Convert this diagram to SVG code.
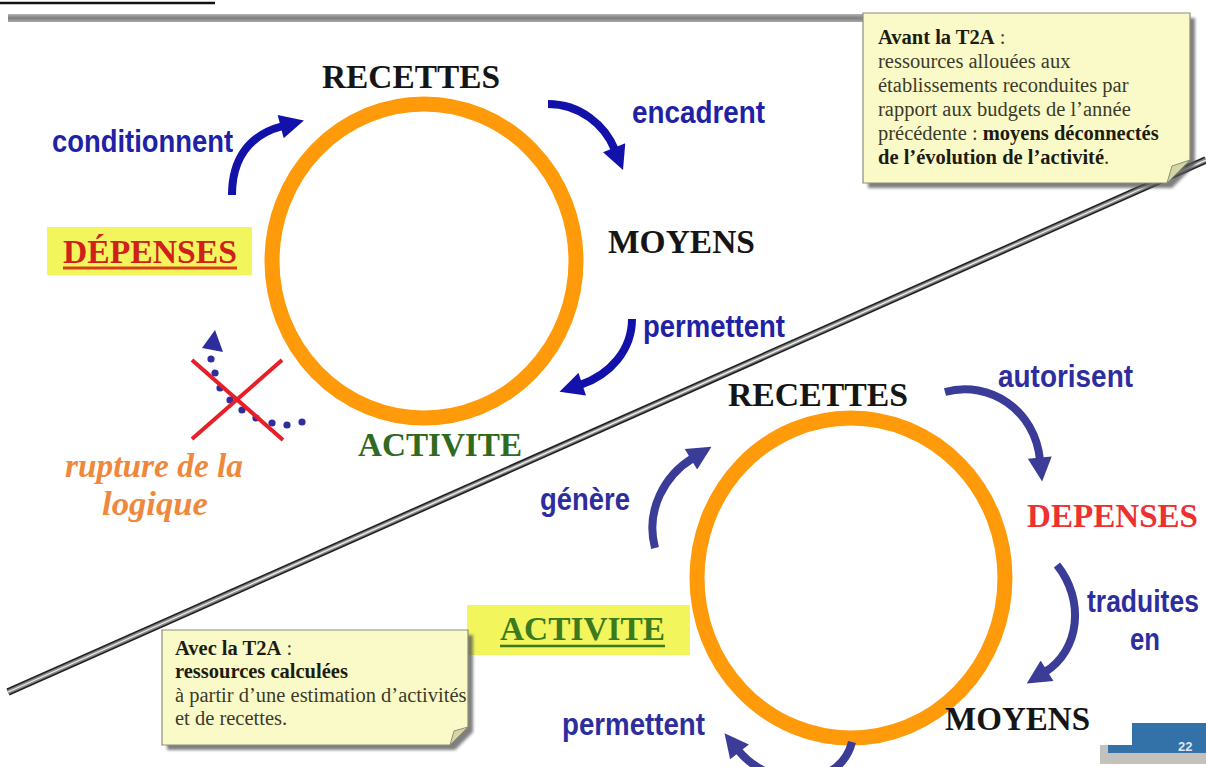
<svg xmlns="http://www.w3.org/2000/svg" width="1206" height="767" viewBox="0 0 1206 767">
<style>
.lbl{font-family:"Liberation Serif","Times New Roman",serif;font-weight:bold;font-size:33px;fill:#151515}
.bt{font-family:"Liberation Sans",Arial,sans-serif;font-weight:bold;font-size:31px;fill:#2121a6}
.bb{font-family:"Liberation Sans",Arial,sans-serif;font-weight:bold;font-size:31px;fill:#2d2d9e}
.note{font-family:"Liberation Serif","Times New Roman",serif;font-size:20.5px;fill:#3b3b2c}
.nb{font-weight:bold;fill:#1c1c10}
.ring{fill:none;stroke:#ff9a0a;stroke-width:15}
.at{fill:none;stroke:#1212aa;stroke-width:8}
.ab{fill:none;stroke:#3b3b98;stroke-width:8}
.paper{fill:#fafac8;stroke:#8e8e78;stroke-width:1.2}
.fold{fill:#d6d6a4;stroke:#8e8e78;stroke-width:1}
</style>
<defs>
<marker id="hT" viewBox="0 0 10 10" refX="1" refY="5" markerUnits="userSpaceOnUse" markerWidth="25" markerHeight="24" orient="auto"><path d="M0,0 L10,5 L0,10 z" fill="#1212aa"/></marker>
<marker id="hB" viewBox="0 0 10 10" refX="1" refY="5" markerUnits="userSpaceOnUse" markerWidth="25" markerHeight="24" orient="auto"><path d="M0,0 L10,5 L0,10 z" fill="#3b3b98"/></marker>
<filter id="sh" x="-10%" y="-10%" width="130%" height="130%"><feGaussianBlur stdDeviation="1.5"/></filter>
<linearGradient id="bar" x1="0" y1="0" x2="0" y2="1"><stop offset="0" stop-color="#b5b5b5"/><stop offset="0.5" stop-color="#7e7e7e"/><stop offset="1" stop-color="#a8a8a8"/></linearGradient>
</defs>
<rect width="1206" height="767" fill="#ffffff"/>

<g id="header">
<line x1="0" y1="3" x2="215" y2="3" stroke="#111" stroke-width="2.5"/>
<rect x="8" y="14" width="856" height="8" fill="url(#bar)"/>
</g>

<g id="divider">
<line x1="8" y1="692" x2="1206" y2="160" stroke="#222" stroke-width="7.5"/>
<line x1="8" y1="692" x2="1206" y2="160" stroke="#8a8a8a" stroke-width="4.2"/>
<line x1="8" y1="692" x2="1206" y2="160" stroke="#eeeeee" stroke-width="1.3"/>
</g>

<g id="cycle-top"><ellipse class="ring" cx="424" cy="261" rx="152" ry="157"/></g>
<g id="cycle-bottom"><ellipse class="ring" cx="851" cy="578" rx="154" ry="160"/></g>

<g id="connectors">
<path class="at" d="M232,195 C232,160 248,135 283,126" marker-end="url(#hT)"/>
<path class="at" d="M548,104 C580,104 605,125 615,150" marker-end="url(#hT)"/>
<path class="at" d="M632,319 C632,350 610,375 580,385" marker-end="url(#hT)"/>
<path class="ab" d="M945,392 C990,380 1035,410 1040,460" marker-end="url(#hB)"/>
<path class="ab" d="M1057,565 C1085,600 1080,650 1045,672" marker-end="url(#hB)"/>
<path class="ab" d="M655,548 C645,510 665,475 693,458" marker-end="url(#hB)"/>
<path class="ab" d="M852,742 C840,790 770,790 738,750" marker-end="url(#hB)"/>
</g>

<g id="broken-link">
<g fill="#2d2d9e">
<polygon points="215,330 202,348 223,352"/>
<circle cx="211" cy="359" r="3.6"/>
<circle cx="215" cy="373" r="3.6"/>
<circle cx="220" cy="388" r="3.6"/>
<circle cx="230" cy="400" r="3.6"/>
<circle cx="242" cy="410" r="3.6"/>
<circle cx="256" cy="418" r="3.6"/>
<circle cx="272" cy="423" r="3.6"/>
<circle cx="287" cy="425" r="3.6"/>
<circle cx="302" cy="422" r="3.6"/>
</g>
<line x1="192" y1="360" x2="283" y2="440" stroke="#e81e28" stroke-width="4"/>
<line x1="282" y1="360" x2="192" y2="439" stroke="#e81e28" stroke-width="4"/>
</g>

<g id="t-recettes"><text class="lbl" x="322" y="88" textLength="178" lengthAdjust="spacingAndGlyphs">RECETTES</text></g>
<g id="t-moyens"><text class="lbl" x="608" y="253" textLength="147" lengthAdjust="spacingAndGlyphs">MOYENS</text></g>
<g id="t-activite"><text class="lbl" x="358" y="456" textLength="164" lengthAdjust="spacingAndGlyphs" style="fill:#2f6a1e">ACTIVITE</text></g>
<g id="t-depenses">
<rect x="47" y="227" width="205" height="48" fill="#f2f55c"/>
<text class="lbl" x="63" y="263" textLength="174" lengthAdjust="spacingAndGlyphs" style="fill:#d0201a">DÉPENSES</text>
<line x1="63" y1="268" x2="237" y2="268" stroke="#d8401a" stroke-width="3"/>
</g>
<g id="t-labels-top">
<text class="bt" x="52" y="152" textLength="181" lengthAdjust="spacingAndGlyphs">conditionnent</text>
<text class="bt" x="632" y="123" textLength="133" lengthAdjust="spacingAndGlyphs">encadrent</text>
<text class="bt" x="643" y="337" textLength="142" lengthAdjust="spacingAndGlyphs">permettent</text>
</g>
<g id="t-rupture" style="font-family:'Liberation Serif','Times New Roman',serif;font-weight:bold;font-style:italic;font-size:33px;fill:#f0883c">
<text x="65" y="477" textLength="178" lengthAdjust="spacingAndGlyphs">rupture de la</text>
<text x="102" y="515" textLength="106" lengthAdjust="spacingAndGlyphs">logique</text>
</g>

<g id="b-recettes"><text class="lbl" x="728" y="406" textLength="180" lengthAdjust="spacingAndGlyphs">RECETTES</text></g>
<g id="b-depenses"><text class="lbl" x="1027" y="527" textLength="171" lengthAdjust="spacingAndGlyphs" style="fill:#ee3030">DEPENSES</text></g>
<g id="b-moyens"><text class="lbl" x="945" y="730" textLength="145" lengthAdjust="spacingAndGlyphs">MOYENS</text></g>
<g id="b-activite">
<rect x="467" y="605" width="223" height="50" fill="#f2f55c"/>
<text class="lbl" x="500" y="640" textLength="165" lengthAdjust="spacingAndGlyphs" style="fill:#3c7a1e">ACTIVITE</text>
<line x1="500" y1="646" x2="665" y2="646" stroke="#3c7a1e" stroke-width="2.5"/>
</g>
<g id="b-labels">
<text class="bb" x="998" y="387" textLength="135" lengthAdjust="spacingAndGlyphs">autorisent</text>
<text class="bb" transform="translate(1087,612) scale(1,1.15)" x="0" y="0" style="font-size:26.5px">traduites</text>
<text class="bb" x="1130" y="650" textLength="30" lengthAdjust="spacingAndGlyphs">en</text>
<text class="bb" x="540" y="510" textLength="90" lengthAdjust="spacingAndGlyphs">génère</text>
<text class="bb" x="562" y="735" textLength="143" lengthAdjust="spacingAndGlyphs">permettent</text>
</g>

<g id="note-avant">
<path d="M868,18 H1195 V165 L1172,188 H868 Z" fill="#555" opacity="0.75" filter="url(#sh)"/>
<path class="paper" d="M863,13 H1190 V160 L1167,183 H863 Z"/>
<path class="fold" d="M1167,183 L1172,166 L1190,160 Z"/>
<text class="note" x="878" y="44"><tspan class="nb">Avant la T2A</tspan> :</text>
<text class="note" x="878" y="68">ressources allouées aux</text>
<text class="note" x="878" y="92">établissements reconduites par</text>
<text class="note" x="878" y="116">rapport aux budgets de l’année</text>
<text class="note" x="878" y="140">précédente : <tspan class="nb">moyens déconnectés</tspan></text>
<text class="note" x="878" y="164"><tspan class="nb">de l’évolution de l’activité</tspan>.</text>
</g>
<g id="note-avec">
<path d="M167,635 H473 V732 L455,750 H167 Z" fill="#555" opacity="0.75" filter="url(#sh)"/>
<path class="paper" d="M162,630 H468 V727 L450,745 H162 Z"/>
<path class="fold" d="M450,745 L454,731 L468,727 Z"/>
<text class="note" x="175" y="655"><tspan class="nb">Avec la T2A</tspan> :</text>
<text class="note nb" x="175" y="678">ressources calculées</text>
<text class="note" x="175" y="702">à partir d’une estimation d’activités</text>
<text class="note" x="175" y="725">et de recettes.</text>
</g>

<g id="page">
<path d="M1100,745 H1206 V764 H1100 Z" fill="#c4c0bc"/>
<path d="M1108,745 H1132 V723 H1206 V753 H1108 Z" fill="#3372a8"/>
<text x="1178" y="751" style="font-family:'Liberation Sans',Arial,sans-serif;font-size:13px;font-weight:bold;fill:#dfe6ee">22</text>
</g>
</svg>
